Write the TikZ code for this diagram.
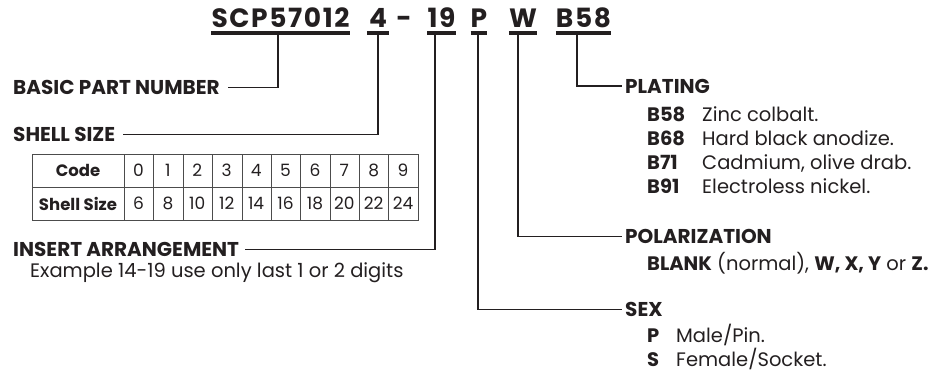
\documentclass[tikz,border=0pt]{standalone}
\usepackage{fontspec}
\setmainfont{Poppins}
\definecolor{ink}{HTML}{231F20}
\begin{document}
\begin{tikzpicture}[x=1pt,y=-1pt,
  title/.style={font=\fontsize{26.5}{26.5}\selectfont\bfseries\addfontfeature{LetterSpace=6}, inner sep=0pt, text depth=5pt, anchor=south, text=ink},
  uline/.style={line width=4pt, ink},
  conn/.style={line width=1.8pt, ink},
  head/.style={font=\fontsize{20}{20}\selectfont\bfseries, anchor=west, inner sep=0pt, text=ink},
  body/.style={font=\fontsize{19.5}{19.5}\selectfont, anchor=base west, inner sep=0pt, text=ink},
  bcode/.style={font=\fontsize{19.5}{19.5}\selectfont\bfseries, anchor=base west, inner sep=0pt, text=ink},
  tbl/.style={line width=1pt, black!70},
  cell/.style={font=\fontsize{17}{17}\selectfont, inner sep=0pt, text=ink},
  bcell/.style={font=\fontsize{16.5}{16.5}\selectfont\bfseries, inner sep=0pt, text=ink}]
\useasboundingbox (0,0) rectangle (940,375);

% title groups
\node[title, minimum width=137pt] (t1) at (280.5,33) {SCP57012};
\node[title, minimum width=22pt]  (t2) at (378,33)   {4};
\node[title]                      (t3) at (404,33)   {-};
\node[title, minimum width=27pt]  (t4) at (441.5,33) {19};
\node[title, minimum width=16pt]  (t5) at (479,33)   {P};
\node[title, minimum width=16pt]  (t6) at (523,33)   {W};
\node[title, minimum width=31pt]  (t7) at (583.5,33) {B58};
\foreach \t in {t1,t2,t4,t5,t6,t7}
  \draw[uline] (\t.south west) -- (\t.south east);

% headings
\node[head] (basic)   at (13,87.5)  {BASIC PART NUMBER};
\node[head] (shell)   at (13,134.5) {SHELL SIZE};
\node[head] (insert)  at (13,249.5) {INSERT ARRANGEMENT};
\node[head] (plating) at (625,86)   {PLATING};
\node[head] (polar)   at (625,236.5){POLARIZATION};
\node[head] (sex)     at (625,309.5){SEX};

% connectors
\draw[conn] ([xshift=-2.5pt]t1.south) |- ([xshift=8pt]basic.east);
\draw[conn] (t2.south) |- ([xshift=8pt]shell.east);
\draw[conn] ([xshift=-6.5pt]t4.south) |- ([xshift=6pt]insert.east);
\draw[conn] ([xshift=-1pt]t5.south) |- ([xshift=-3pt]sex.west);
\draw[conn] ([xshift=-5pt]t6.south) |- ([xshift=-3pt]polar.west);
\draw[conn] ([xshift=-6.5pt]t7.south) |- ([xshift=-3pt]plating.west);

% table
\draw[tbl] (32,154) rectangle (418,220);
\draw[tbl] (32,187) -- (418,187);
\foreach \x in {124,153,183,212,242,271,300,330,359,388}
  \draw[tbl] (\x,154) -- (\x,220);
\node[bcell] (code)  at (78,170.5) {Code};
\node[bcell] (ssize) at (78,203.5) {Shell Size};
\foreach \c/\s [count=\i from 0] in {0/6,1/8,2/10,3/12,4/14,5/16,6/18,7/20,8/22,9/24} {
  \node[cell] (c\i) at ({138.5+29.4*\i},170.5) {\c};
  \node[cell] (s\i) at ({138.5+29.4*\i},203.5) {\s};
}

% body texts
\node[body] (ex) at (30,277) {Example 14-19 use only last 1 or 2 digits};

\node[bcode] (p1) at (647,121) {B58}; \node[body] (d1) at (702,121) {Zinc colbalt.};
\node[bcode] (p2) at (647,145) {B68}; \node[body] (d2) at (702,145) {Hard black anodize.};
\node[bcode] (p3) at (647,169) {B71}; \node[body] (d3) at (702,169) {Cadmium, olive drab.};
\node[bcode] (p4) at (647,193) {B91}; \node[body] (d4) at (702,193) {Electroless nickel.};

\node[body] (blank) at (647,270) {\textbf{BLANK} (normal), \textbf{W, X, Y} or \textbf{Z.}};

\node[bcode] (sp) at (647,342) {P}; \node[body] (dp) at (676,342) {Male/Pin.};
\node[bcode] (ss) at (647,366) {S}; \node[body] (ds) at (676,366) {Female/Socket.};
\end{tikzpicture}
\end{document}
